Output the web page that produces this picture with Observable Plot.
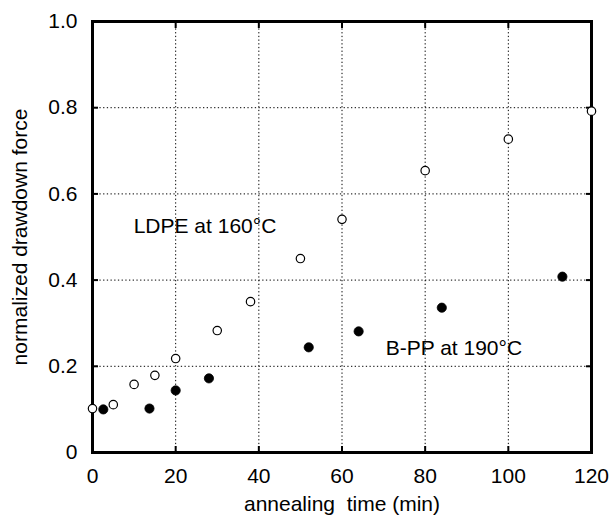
<!DOCTYPE html>
<html>
<head>
<meta charset="utf-8">
<script src="https://cdn.jsdelivr.net/npm/d3@7"></script>
<script src="https://cdn.jsdelivr.net/npm/@observablehq/plot@0.6"></script>
<style>
  html, body { margin: 0; padding: 0; background: #fff; }
  svg { font-family: "Liberation Sans", Arial, sans-serif; }
</style>
</head>
<body>
<div id="chart"></div>
<script>
// LDPE at 160°C (open circles)
const ldpeTime  = [0, 5, 10, 15, 20, 30, 38, 50, 60, 80, 100, 120];
const ldpeForce = [0.102, 0.111, 0.158, 0.179, 0.218, 0.283, 0.35, 0.45, 0.541, 0.654, 0.727, 0.792];
// B-PP at 190°C (filled circles)
const bppTime  = [2.6, 13.7, 20, 28, 52, 64, 84, 113];
const bppForce = [0.10, 0.102, 0.144, 0.172, 0.244, 0.281, 0.336, 0.408];

const xTicks = [0, 20, 40, 60, 80, 100, 120];
const yTicks = [0, 0.2, 0.4, 0.6, 0.8, 1.0];
const xGrid = [20, 40, 60, 80, 100];
const yGrid = [0.2, 0.4, 0.6, 0.8];

const labels = [
  {t: 9.9, f: 0.525, text: "LDPE at 160°C"},
  {t: 70.5, f: 0.241, text: "B-PP at 190°C"}
];

const ldpe = ldpeTime.map((t, i) => ({t, f: ldpeForce[i]}));
const bpp = bppTime.map((t, i) => ({t, f: bppForce[i]}));

const chart = Plot.plot({
  width: 611,
  height: 517,
  marginLeft: 92,
  marginRight: 20,
  marginTop: 21,
  marginBottom: 65,
  style: {fontFamily: "Liberation Sans, Arial, sans-serif", fontSize: "21px", color: "black", background: "white"},
  x: {domain: [0, 120]},
  y: {domain: [0, 1.0]},
  marks: [
    Plot.ruleX(xGrid, {stroke: "black", strokeWidth: 1, strokeDasharray: "1.3,2.4"}),
    Plot.ruleY(yGrid, {stroke: "black", strokeWidth: 1, strokeDasharray: "1.3,2.4"}),
    Plot.axisX({ticks: xTicks, tickSize: 0, tickPadding: 16, fontSize: 21,
      tickFormat: d => String(d),
      label: "annealing\u00a0 time (min)", labelAnchor: "center", labelArrow: "none", labelOffset: 58}),
    Plot.axisX({anchor: "bottom", ticks: xGrid, tickSize: -6, strokeWidth: 2, text: null, label: null}),
    Plot.axisX({anchor: "top", ticks: xGrid, tickSize: -6, strokeWidth: 2, text: null, label: null}),
    Plot.axisY({ticks: yTicks, tickSize: 0, tickPadding: 15, fontSize: 21,
      tickFormat: d => d === 0 ? "0" : d.toFixed(1),
      label: "normalized drawdown force", labelAnchor: "center", labelArrow: "none", labelOffset: 80}),
    Plot.axisY({anchor: "left", ticks: yGrid, tickSize: -6, strokeWidth: 2, text: null, label: null}),
    Plot.axisY({anchor: "right", ticks: yGrid, tickSize: -6, strokeWidth: 2, text: null, label: null}),
    Plot.frame({stroke: "black", strokeWidth: 3}),
    Plot.dot(bpp, {x: "t", y: "f", r: 4.6, fill: "black", stroke: "black", strokeWidth: 0.8}),
    Plot.dot(ldpe, {x: "t", y: "f", r: 4.2, fill: "white", stroke: "black", strokeWidth: 1.2}),
    Plot.text(labels, {x: "t", y: "f", text: "text", textAnchor: "start", fontSize: 21, fill: "black"})
  ]
});
document.getElementById("chart").appendChild(chart);
</script>
</body>
</html>
